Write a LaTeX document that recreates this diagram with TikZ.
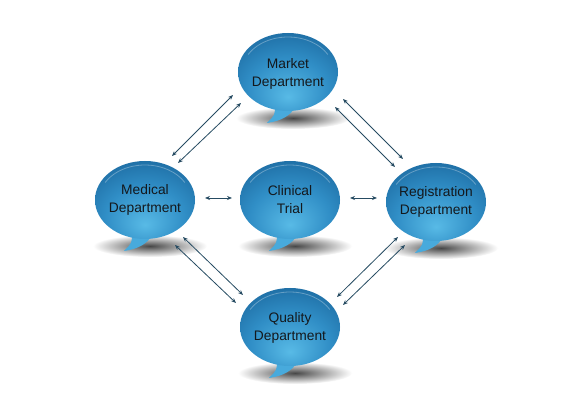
\documentclass[tikz,border=0pt]{standalone}
\usepackage{fontspec}
\setmainfont{Liberation Sans}
\usetikzlibrary{arrows.meta,calc}
\definecolor{bubdark}{RGB}{24,98,152}
\definecolor{bubmid}{RGB}{48,142,198}
\definecolor{bublight}{RGB}{88,186,230}
\definecolor{tailcol}{RGB}{72,170,220}
\definecolor{arrowcol}{RGB}{38,75,98}
\definecolor{txtcol}{RGB}{20,24,28}
\pgfdeclareradialshading{bubshade}{\pgfpoint{0bp}{-16bp}}{%
  color(0bp)=(bublight); color(20bp)=(bubmid); color(40bp)=(bubdark); color(70bp)=(bubdark)}
\newcommand\mybubble[1]{%
  \shade[inner color=black!72, outer color=white]
    ($#1+(5,46)$) ellipse [x radius=57pt, y radius=11pt];
  \fill[tailcol]
    ($#1+(-13,33)$) .. controls ($#1+(-13,43)$) .. ($#1+(-21,51)$)
    .. controls ($#1+(-6,49)$) and ($#1+(3,43)$) .. ($#1+(7,35)$) -- cycle;
  \shade[shading=bubshade] #1 ellipse [x radius=50pt, y radius=39pt];
  \draw[white, opacity=0.3, line width=0.8pt]
    ($#1+(150:46pt and 35pt)$) arc [start angle=150, end angle=30, x radius=46pt, y radius=35pt];
}
\tikzset{
  lbl/.style={align=center, text=txtcol, font=\fontsize{13.8}{18}\selectfont, inner sep=0pt},
  dbl/.style={arrowcol, line width=0.8pt, {Stealth[length=5pt,width=4pt]}-{Stealth[length=5pt,width=4pt]}}
}
\begin{document}
\begin{tikzpicture}[x=1pt,y=-1pt]
\useasboundingbox[fill=white] (0,0) rectangle (582,403);
\mybubble{(288,72)}
\mybubble{(145,200)}
\mybubble{(290,200)}
\mybubble{(436,202)}
\mybubble{(290,327)}
\node[lbl] (mkt) at (288,74) {Market\\Department};
\node[lbl] (med) at (145,200) {Medical\\Department};
\node[lbl] (cli) at (290,200) {Clinical\\Trial};
\node[lbl] (reg) at (436,202) {Registration\\Department};
\node[lbl] (qua) at (290,328) {Quality\\Department};
% Medical - Market
\draw[dbl] ($(med)+(27,-44)$) -- ($(mkt)+(-55,21)$);
\draw[dbl] ($(med)+(33,-37)$) -- ($(mkt)+(-47,29)$);
% Market - Registration
\draw[dbl] ($(mkt)+(55,25)$) -- ($(reg)+(-33,-43)$);
\draw[dbl] ($(mkt)+(47,33)$) -- ($(reg)+(-41,-35)$);
% Medical - Quality
\draw[dbl] ($(med)+(38,37)$) -- ($(qua)+(-47,-33)$);
\draw[dbl] ($(med)+(30,45)$) -- ($(qua)+(-54,-25)$);
% Quality - Registration
\draw[dbl] ($(qua)+(47,-31)$) -- ($(reg)+(-38,35)$);
\draw[dbl] ($(qua)+(53,-23)$) -- ($(reg)+(-31,43)$);
% horizontal
\draw[dbl] ($(med)+(60,-2)$) -- ($(cli)+(-58,-2)$);
\draw[dbl] ($(cli)+(60,-2)$) -- ($(reg)+(-59,-4)$);
\end{tikzpicture}
\end{document}
